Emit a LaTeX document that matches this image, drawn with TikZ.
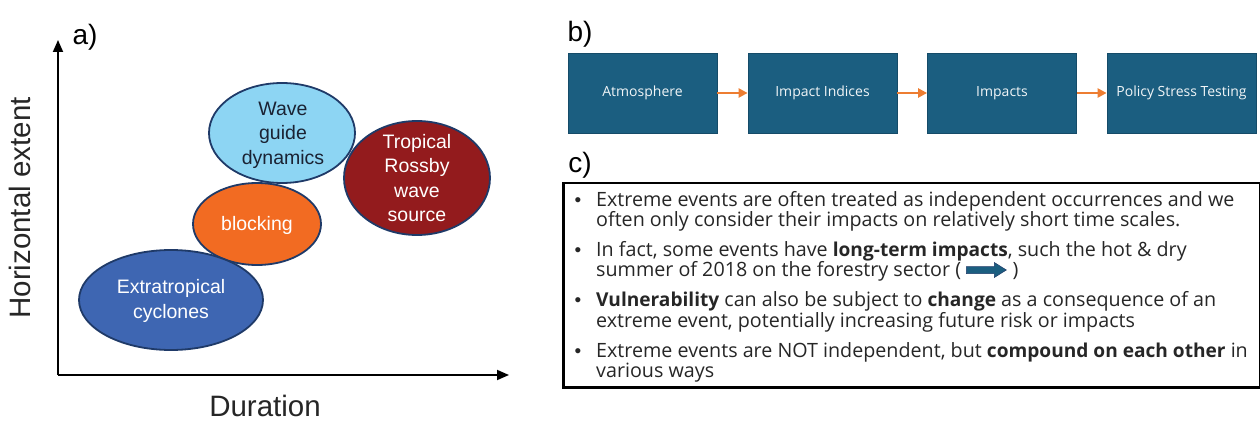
\documentclass[tikz,border=0pt]{standalone}
\usepackage{fontspec}
\setmainfont{Liberation Sans}
\newfontfamily\osans{Open Sans}[BoldFeatures={Scale=0.97}]
\usetikzlibrary{shapes.geometric,arrows.meta,calc}
\definecolor{boxteal}{HTML}{1B5E80}
\definecolor{boxedge}{HTML}{154B68}
\definecolor{ellborder}{HTML}{1F3A68}
\definecolor{wavefill}{HTML}{8DD5F3}
\definecolor{blockfill}{HTML}{F26B22}
\definecolor{tropfill}{HTML}{931B1D}
\definecolor{extrafill}{HTML}{3E66B2}
\definecolor{arroworange}{HTML}{ED7D31}
\definecolor{bodytext}{HTML}{262626}
\definecolor{wavetext}{HTML}{1A2233}
\begin{document}
\begin{tikzpicture}[x=1pt,y=-1pt,
  ell/.style={ellipse, draw=ellborder, line width=1.8pt, inner sep=0pt},
  elltext/.style={font=\fontsize{19.5}{24.5}\selectfont, align=center, inner sep=0pt},
  panellabel/.style={font=\fontsize{28}{30}\selectfont, inner sep=0pt},
  axislabel/.style={font=\fontsize{29.5}{32}\selectfont, text=bodytext, inner sep=0pt},
  axisline/.style={line width=1.8pt, -{Triangle[length=12pt,width=10pt]}},
  flowbox/.style={rectangle, fill=boxteal, draw=boxedge, line width=0.8pt,
    minimum width=149pt, minimum height=80pt, inner sep=0pt, text=white!94!boxteal,
    font=\osans\fontsize{14}{17}\selectfont},
  flowarrow/.style={draw=arroworange, line width=2.5pt, -{Triangle[length=9pt,width=9pt]}},
  bline/.style={anchor=base west, inner sep=0pt, text=bodytext, font=\osans\fontsize{19.7}{20}\selectfont},
  bdot/.style={anchor=base, inner sep=0pt, text=bodytext, font=\fontsize{19}{20}\selectfont}
]
\useasboundingbox (0,0) rectangle (1260,422);

% ---------- panel a ----------
\node[panellabel] (la) at (85,37) {a)};
\coordinate (origin) at (58,375);
\coordinate (ytip) at (58,40);
\coordinate (xtip) at (509,375);
\draw[axisline] (origin) -- (ytip);
\draw[axisline] (origin) -- (xtip);
\node[axislabel, rotate=90] (ylab) at (20,208) {Horizontal extent};
\node[axislabel] (xlab) at (265,406) {Duration};

\node[ell, fill=wavefill, minimum width=146pt, minimum height=100pt] (wg) at (282,133) {};
\node[ell, fill=tropfill, minimum width=146pt, minimum height=114pt] (tr) at (417,178) {};
\node[ell, fill=blockfill, minimum width=128pt, minimum height=82pt] (bl) at (257,224) {};
\node[ell, fill=extrafill, minimum width=184pt, minimum height=100pt] (ex) at (171,300) {};

\node[elltext, text=wavetext] (wgt) at (283,135) {Wave\\guide\\dynamics};
\node[elltext, text=white] (trt) at (417,178) {Tropical\\Rossby\\wave\\source};
\node[elltext, text=white] (blt) at (257,225) {blocking};
\node[elltext, text=white] (ext) at (171,301) {Extratropical\\cyclones};

% ---------- panel b ----------
\node[panellabel] (lb) at (580,34) {b)};
\node[flowbox] (b1) at (642.5,93) {Atmosphere};
\node[flowbox] (b2) at (822.5,93) {Impact Indices};
\node[flowbox] (b3) at (1002,93) {Impacts};
\node[flowbox] (b4) at (1181.5,93) {Policy Stress Testing};
\draw[flowarrow] (b1) -- (b2);
\draw[flowarrow] (b2) -- (b3);
\draw[flowarrow] (b3) -- (b4);

% ---------- panel c ----------
\node[panellabel] (lc) at (580,165) {c)};
\node[draw=black, line width=2.5pt, minimum width=697pt, minimum height=204pt,
  inner sep=0pt, anchor=north west] (cbox) at (562,182) {};

\node[bdot] (d1) at (578,206) {•};
\node[bline] (l1) at (596,206) {Extreme events are often treated as independent occurrences and we};
\node[bline] (l2) at (596,226) {often only consider their impacts on relatively short time scales.};
\node[bdot] (d2) at (578,256) {•};
\node[bline] (l3) at (596,256) {In fact, some events have \textbf{long-term impacts}, such the hot \& dry};
\node[bline] (l4) at (596,276.5) {summer of 2018 on the forestry sector (};
\coordinate (arrs) at ($(l4.base east)+(5,-6.5)$);
\fill[boxteal, draw=ellborder, line width=0.5pt] (arrs) ++(0,-3.5) -- ++(28,0) -- ++(0,-4) -- ++(12,7.5) -- ++(-12,7.5) -- ++(0,-4) -- ++(-28,0) -- cycle;
\node[bline] (l4b) at ($(l4.base east)+(51,0)$) {)};
\node[bdot] (d3) at (578,306.5) {•};
\node[bline] (l5) at (596,306.5) {\textbf{Vulnerability} can also be subject to \textbf{change} as a consequence of an};
\node[bline] (l6) at (596,327) {extreme event, potentially increasing future risk or impacts};
\node[bdot] (d4) at (578,357) {•};
\node[bline] (l7) at (596,357) {Extreme events are NOT independent, but \textbf{compound on each other} in};
\node[bline] (l8) at (596,377) {various ways};
\end{tikzpicture}
\end{document}
